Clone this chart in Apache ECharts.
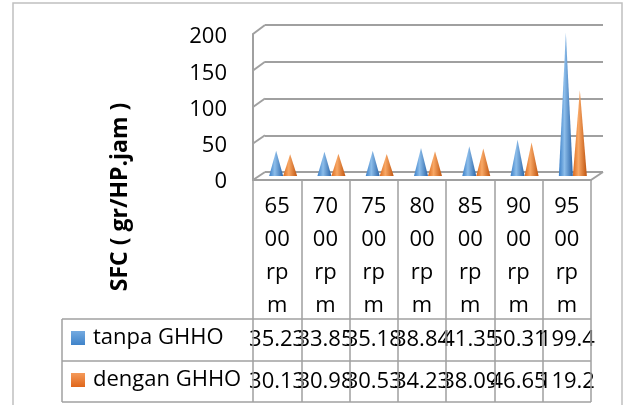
<!DOCTYPE html>
<html><head><meta charset="utf-8">
<script src="https://cdn.jsdelivr.net/npm/echarts@6/dist/echarts.min.js"></script>
<style>html,body{margin:0;padding:0;background:#fff;}#c{width:625px;height:405px;}</style>
</head><body><div id="c"></div>
<script>
const categories = ['6500 rpm','7000 rpm','7500 rpm','8000 rpm','8500 rpm','9000 rpm','9500 rpm'];
const tanpaGHHO = [35.23, 33.85, 35.18, 38.84, 41.35, 50.31, 199.4];
const denganGHHO = [30.13, 30.98, 30.53, 34.23, 38.09, 46.65, 119.2];
const seriesNames = ['tanpa GHHO', 'dengan GHHO'];
const yMin = 0, yMax = 200, yStep = 50;
const yTitle = 'SFC ( gr/HP.jam )';

const FONT = 'Open Sans';
const FS = 22;
const GRID_LINE = '#a0a0a0';
const blueGrad = new echarts.graphic.LinearGradient(0,0,1,0,[{offset:0,color:'#3a7fc8'},{offset:0.4,color:'#8cbdea'},{offset:1,color:'#2a64a8'}]);
const orangeGrad = new echarts.graphic.LinearGradient(0,0,1,0,[{offset:0,color:'#dc6a1c'},{offset:0.4,color:'#f8a866'},{offset:1,color:'#c0540e'}]);
const blueIcon = new echarts.graphic.LinearGradient(0,0,0,1,[{offset:0,color:'#74aae0'},{offset:1,color:'#3f83c9'}]);
const orangeIcon = new echarts.graphic.LinearGradient(0,0,0,1,[{offset:0,color:'#f59a5a'},{offset:1,color:'#e0661a'}]);

const chart = echarts.init(document.getElementById('c'), null, {renderer:'canvas'});
const yBase = {type:'value', min:yMin, max:yMax, interval:yStep};
const option = {
  animation:false,
  textStyle:{fontFamily:FONT},
  grid:[
    {left:265, right:22, top:25, height:147},   // back wall
    {left:253, right:34, top:34, height:146},   // front edge
    {left:259, right:28, top:32, height:144},   // cones
    {left:253, right:34, top:37, height:145}    // tick labels
  ],
  xAxis:[
    {gridIndex:0, type:'category', data:categories, show:false},
    {gridIndex:1, type:'category', data:categories,
      axisLine:{show:true, lineStyle:{color:GRID_LINE, width:2}},
      axisTick:{show:true, length:222, lineStyle:{color:GRID_LINE, width:1.5}},
      axisLabel:{fontFamily:FONT, fontSize:FS, color:'#000', lineHeight:33, margin:10.5, interval:0,
        formatter: v => v.replace(/\s+/g,'').match(/.{1,2}/g).join('\n')}},
    {gridIndex:2, type:'category', data:categories, show:false},
    {gridIndex:3, type:'category', data:categories, show:false}
  ],
  yAxis:[
    Object.assign({gridIndex:0, axisLabel:{show:false}, axisLine:{show:false}, axisTick:{show:false},
      splitLine:{show:true, lineStyle:{color:GRID_LINE, width:2}}}, yBase),
    Object.assign({gridIndex:1, axisLine:{show:true, lineStyle:{color:GRID_LINE, width:2}}, axisTick:{show:false},
      splitLine:{show:false}, axisLabel:{show:false}}, yBase),
    Object.assign({gridIndex:2, show:false}, yBase),
    Object.assign({gridIndex:3, axisLine:{show:false}, axisTick:{show:false}, splitLine:{show:false},
      axisLabel:{fontFamily:FONT, fontSize:FS, color:'#000', margin:26}}, yBase)
  ],
  legend:{orient:'vertical', left:71, top:324, padding:0, itemWidth:14, itemHeight:14, itemGap:14, icon:'rect',
    textStyle:{fontFamily:FONT, fontSize:FS, color:'#000', lineHeight:28, padding:[0,0,0,3]},
    data:[{name:seriesNames[0], itemStyle:{color:blueIcon}}, {name:seriesNames[1], itemStyle:{color:orangeIcon}}]},
  series:[
    {name:seriesNames[0], type:'pictorialBar', xAxisIndex:2, yAxisIndex:2, data:tanpaGHHO, symbol:'triangle',
      symbolSize:[14,'100%'], barWidth:14, barGap:'0%', itemStyle:{color:blueGrad}},
    {name:seriesNames[1], type:'pictorialBar', xAxisIndex:2, yAxisIndex:2, data:denganGHHO, symbol:'triangle',
      symbolSize:[14,'100%'], barWidth:14, barGap:'0%', itemStyle:{color:orangeGrad}}
  ]
};
chart.setOption(option);

// decorations computed from the library's scales
const g = [];
const ln = (x1,y1,x2,y2,w,c) => g.push({type:'line', silent:true, shape:{x1,y1,x2,y2}, style:{stroke:c||GRID_LINE, lineWidth:w||2}});
const px = (ax, i) => chart.convertToPixel({xAxisIndex:ax}, i);
const bandA = px(0,1) - px(0,0), bandB = px(1,1) - px(1,0);
const backLeft = px(0,0) - bandA/2, frontLeft = px(1,0) - bandB/2;
const frontRight = frontLeft + bandB*categories.length;
const backRight = backLeft + bandA*categories.length;
for (let v = yMin; v <= yMax; v += yStep) {
  ln(frontLeft, chart.convertToPixel({yAxisIndex:1}, v), backLeft, chart.convertToPixel({yAxisIndex:0}, v));
}
ln(frontRight, chart.convertToPixel({yAxisIndex:1}, 0), backRight, chart.convertToPixel({yAxisIndex:0}, 0));
// data table
const tTop = 319, tMid = 361, tBot = 402, tLeft = 62;
[tTop, tMid, tBot].forEach(y => ln(tLeft, y, frontRight, y, 1.5));
ln(tLeft, tTop, tLeft, tBot, 1.5);
[tanpaGHHO, denganGHHO].forEach((arr, r) => {
  const yc = (r === 0 ? (tTop+tMid)/2 : (tMid+tBot)/2);
  arr.forEach((val, i) => {
    g.push({type:'text', silent:true, x: px(1, i), y: yc,
      style:{text:String(val), fontFamily:FONT, fontSize:FS, fill:'#000', align:'center', verticalAlign:'middle'}});
  });
});
// y-axis title
g.push({type:'text', silent:true, x:120, y:197, rotation:Math.PI/2,
  style:{text:yTitle, fontFamily:FONT, fontSize:23, fontWeight:'bold', fill:'#000', align:'center', verticalAlign:'middle'}});
// outer frame
g.push({type:'rect', silent:true, shape:{x:13, y:3, width:609, height:420}, style:{fill:null, stroke:'#c0c0c0', lineWidth:1.5}});
chart.setOption({graphic:g});
</script></body></html>
